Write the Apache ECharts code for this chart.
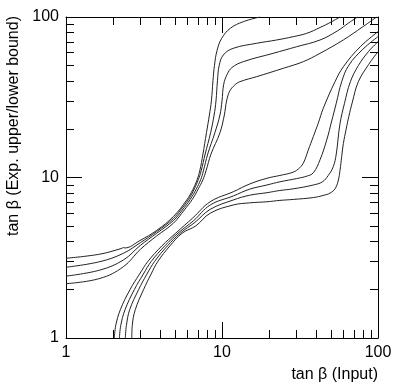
<!DOCTYPE html>
<html lang="en" style="height: 100%">
  <head>
    <meta charset="utf-8" />
    <title>tan beta</title>
  </head>
  <body style="height: 100%; margin: 0; background: #fff">
    <div id="container" style="width: 408px; height: 386px"></div>

    <script
      type="text/javascript"
      src="https://fastly.jsdelivr.net/npm/echarts@6.0.0/dist/echarts.min.js"
    ></script>

    <script type="text/javascript">
      // upper curves (upper bound)
      var u1x = [1, 1.65, 2.28, 2.33, 2.38, 2.98, 3.81, 4.87, 5.94, 6.5, 6.9, 7.2, 7.55, 7.95, 8.3, 8.55, 8.75, 8.95, 9.3, 9.96, 11.3, 13.7, 17.5];
      var u1y = [3.14, 3.33, 3.62, 3.66, 3.64, 4.05, 4.68, 5.7, 7.24, 8.4, 9.6, 11, 14, 19, 24.5, 30, 40, 50, 62, 73.7, 85, 93.5, 100];
      var u2x = [1, 1.65, 2.33, 3.0, 3.81, 4.87, 5.42, 6.1, 6.65, 7.05, 7.35, 7.8, 8.45, 8.9, 9.15, 9.35, 9.6, 10.2, 11.8, 16.7, 22.4, 28.6, 34.9, 42.5, 50, 57];
      var u2y = [2.76, 2.99, 3.37, 3.93, 4.6, 5.54, 6.27, 7.3, 8.5, 9.7, 11, 14, 19, 24.5, 30, 40, 50, 58, 63.8, 68.6, 71.9, 75.4, 79.1, 86, 93, 100];
      var u3x = [1, 1.65, 2.33, 3.0, 3.81, 4.87, 5.57, 6.25, 6.85, 7.3, 7.6, 8.1, 9.0, 9.7, 10.0, 10.25, 10.8, 11.6, 13.7, 21.3, 30.1, 42.5, 55, 65, 74];
      var u3y = [2.43, 2.65, 3.06, 3.78, 4.49, 5.38, 6.27, 7.3, 8.5, 9.7, 11, 14, 19, 24.5, 30, 38, 44, 48.5, 52.7, 59.4, 65.3, 71.9, 82, 92, 100];
      var u4x = [1, 1.65, 2.33, 3.0, 3.81, 4.87, 5.73, 6.45, 7.05, 7.55, 7.9, 8.5, 9.7, 10.35, 10.7, 11.2, 12.0, 13.0, 16.7, 24.7, 33.2, 42.5, 60, 80, 98];
      var u4y = [2.18, 2.35, 2.78, 3.57, 4.32, 5.18, 6.27, 7.3, 8.5, 9.7, 11, 14, 19, 24.5, 30, 34.5, 37.5, 39.5, 42.5, 47.9, 52.7, 59.4, 72, 87, 100];

      // lower curves (lower bound)
      var l1x = [2.04, 2.085, 2.23, 2.57, 2.96, 3.35, 4.12, 5.05, 6.5, 8.4, 11.8, 15, 19.4, 23.5, 28.6, 31.5, 33.5, 35.7, 38.5, 41.4, 44.6, 53, 60, 77, 100];
      var l1y = [1, 1.2, 1.5, 2, 2.5, 3, 3.75, 4.5, 5.6, 7.06, 8.15, 9.1, 9.89, 10.3, 10.8, 11.5, 12.5, 14.8, 18, 21.8, 27, 39.5, 49, 65.3, 81];
      var l2x = [2.2, 2.245, 2.39, 2.74, 3.13, 3.52, 4.3, 5.22, 6.6, 8.4, 11.8, 15, 19.4, 23.5, 30.1, 35, 38.5, 42.5, 46.9, 50.5, 54, 58.5, 65, 80, 100];
      var l2y = [1, 1.2, 1.5, 2, 2.5, 3, 3.75, 4.5, 5.4, 6.74, 7.67, 8.45, 8.98, 9.4, 9.85, 10.2, 10.7, 12.9, 17.1, 22.5, 29, 39.5, 50, 63, 75.4];
      var l3x = [2.4, 2.44, 2.56, 2.92, 3.3, 3.7, 4.47, 5.4, 6.7, 8.4, 11.8, 15, 19.4, 23.5, 28.6, 38.5, 44, 48, 51.7, 54, 57, 61, 66.5, 75, 87, 100];
      var l3y = [1, 1.2, 1.5, 2, 2.5, 3, 3.75, 4.5, 5.25, 6.33, 7.24, 7.75, 8.04, 8.3, 8.5, 8.98, 9.4, 10.3, 11.7, 14, 21.5, 29, 39.5, 50, 61, 70.2];
      var l4x = [2.64, 2.66, 2.78, 3.14, 3.51, 3.88, 4.64, 5.56, 6.8, 8.4, 11.8, 15, 19.4, 23.5, 28.6, 38.5, 45, 49.3, 53, 55.5, 57.1, 58.5, 60, 62.5, 65, 68.5, 74.8, 87, 100];
      var l4y = [1, 1.2, 1.5, 2, 2.5, 3, 3.75, 4.5, 5.0, 5.99, 6.74, 6.95, 7.06, 7.2, 7.3, 7.5, 7.75, 8.0, 8.5, 9.5, 11.1, 13.5, 16.3, 20, 24, 29.5, 39.5, 50.5, 60.8];

      // axis ticks / labels
      var minorTicks = [1, 2, 3, 4, 5, 6, 7, 8, 9, 10, 20, 30, 40, 50, 60, 70, 80, 90, 100];
      var majorTicks = [10];
      var tickLabels = [1, 10, 100];

      var xTitle = "tan \u03b2 (Input)";
      var yTitle = "tan \u03b2 (Exp. upper/lower bound)";

      var dom = document.getElementById("container");
      var myChart = echarts.init(dom, null, { renderer: "canvas" });

      function zip(xs, ys) {
        return xs.map(function (x, i) {
          return [x, ys[i]];
        });
      }

      var curves = [
        [u1x, u1y], [u2x, u2y], [u3x, u3y], [u4x, u4y],
        [l1x, l1y], [l2x, l2y], [l3x, l3y], [l4x, l4y],
      ];

      var font = "Liberation Sans";

      function logAxis(pos, len, ticks, labels) {
        return {
          type: "log",
          logBase: 10,
          min: 1,
          max: 100,
          position: pos,
          axisLine: {
            show: labels !== "none",
            onZero: false,
            lineStyle: { color: "#000", width: 1 },
          },
          axisTick: {
            show: true,
            inside: true,
            length: len,
            customValues: ticks,
            lineStyle: { color: "#000", width: 1 },
          },
          axisLabel: labels === "show"
            ? {
                show: true,
                customValues: tickLabels,
                color: "#000",
                fontSize: 16,
                fontFamily: font,
                margin: 7,
              }
            : { show: false },
          splitLine: { show: false },
          minorTick: { show: false },
        };
      }

      var option = {
        animation: false,
        backgroundColor: "#fff",
        grid: { left: 66, right: 30, top: 17, bottom: 48 },
        xAxis: [
          logAxis("bottom", 8, minorTicks, "show"),
          logAxis("top", 8, minorTicks, "hide"),
          logAxis("bottom", 16, majorTicks, "none"),
          logAxis("top", 16, majorTicks, "none"),
        ],
        yAxis: [
          logAxis("left", 8, minorTicks, "show"),
          logAxis("right", 8, minorTicks, "hide"),
          logAxis("left", 16, majorTicks, "none"),
          logAxis("right", 16, majorTicks, "none"),
        ],
        graphic: [
          {
            type: "text",
            right: 30,
            top: 367,
            style: {
              text: xTitle,
              fill: "#000",
              font: "16px " + font,
            },
          },
          {
            type: "text",
            x: 14,
            y: 16,
            rotation: Math.PI / 2,
            style: {
              text: yTitle,
              fill: "#000",
              font: "16px " + font,
              align: "right",
              verticalAlign: "middle",
            },
          },
        ],
        series: curves.map(function (c) {
          return {
            type: "line",
            xAxisIndex: 0,
            yAxisIndex: 0,
            data: zip(c[0], c[1]),
            showSymbol: false,
            smooth: 0.4,
            lineStyle: { color: "#222", width: 1 },
          };
        }),
      };

      myChart.setOption(option);
      window.addEventListener("resize", myChart.resize);
    </script>
  </body>
</html>
